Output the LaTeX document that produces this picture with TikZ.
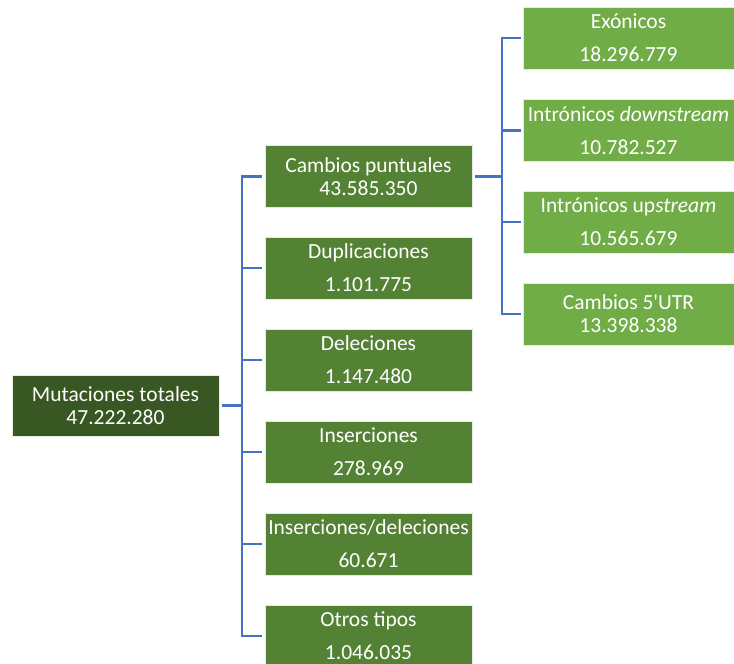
\documentclass[tikz,border=0pt]{standalone}
\usepackage{fontspec}
\setmainfont{Carlito}[Ligatures=TeXOff]
\definecolor{rootgreen}{HTML}{385723}
\definecolor{midgreen}{HTML}{548235}
\definecolor{lightgreen}{HTML}{70AD47}
\definecolor{linkblue}{HTML}{4472C4}
\begin{document}
\begin{tikzpicture}[x=1pt,y=-1pt,
  box/.style={rectangle,draw={rgb,255:red,228;green,236;blue,220},line width=0.8pt,
    text=white,align=center,inner sep=0pt,minimum height=62pt,
    font=\fontsize{21.5}{23}\selectfont},
  rootbox/.style={box,fill=rootgreen,minimum width=207pt,minimum height=61pt},
  lone/.style={box,fill=midgreen,minimum width=207pt},
  ltwo/.style={box,fill=lightgreen,minimum width=211pt},
  conn/.style={draw=linkblue,line width=2.6pt}]
\useasboundingbox (0,0) rectangle (734,664);
\clip (0,0) rectangle (734,664);
% root
\node[rootbox] (root) at (115.5,405.5) {Mutaciones totales\\47.222.280};
% level 1
\node[lone] (cp)  at (368.5,176.5) {Cambios puntuales\\43.585.350};
\node[lone] (dup) at (368.5,268) {Duplicaciones\\[10pt]1.101.775};
\node[lone] (del) at (368.5,360) {Deleciones\\[10pt]1.147.480};
\node[lone] (ins) at (368.5,452) {Inserciones\\[10pt]278.969};
\node[lone] (indel) at (368.5,544) {Inserciones/deleciones\\[10pt]60.671};
\node[lone] (otr) at (368.5,636) {Otros tipos\\[10pt]1.046.035};
% level 2
\node[ltwo] (exo) at (628.5,38) {Exónicos\\[10pt]18.296.779};
\node[ltwo] (down) at (628.5,130.5) {Intrónicos \textit{downstream}\\[10pt]10.782.527};
\node[ltwo] (up) at (628.5,222) {Intrónicos up\textit{stream}\\[10pt]10.565.679};
\node[ltwo] (utr) at (628.5,314) {Cambios 5'UTR\\13.398.338};
% trunk coordinates
\coordinate (t1) at (242,405.5);
\coordinate (t2) at (502,176.5);
% connectors level 1
\draw[conn] ([xshift=3pt]root.east) -- (t1);
\foreach \n in {cp,dup,del,ins,indel,otr}
  \draw[conn] (t1) |- ([xshift=-3pt]\n.west);
% connectors level 2
\draw[conn] ([xshift=3pt]cp.east) -- (t2);
\foreach \n in {exo,down,up,utr}
  \draw[conn] (t2) |- ([xshift=-2pt]\n.west);
\end{tikzpicture}
\end{document}
